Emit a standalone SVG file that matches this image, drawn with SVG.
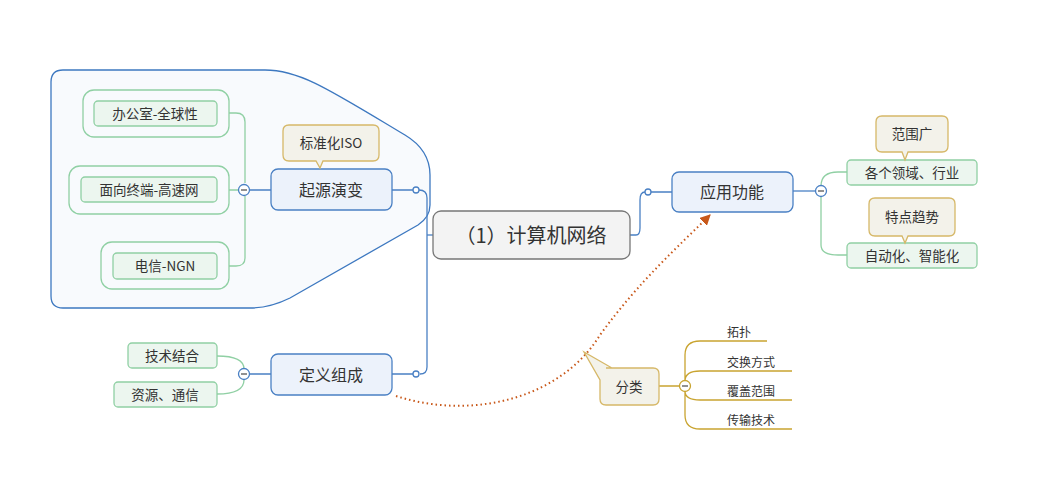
<svg xmlns="http://www.w3.org/2000/svg" width="1060" height="481" viewBox="0 0 1060 481">
<defs>
<style>
text{font-family:"Noto Sans CJK SC","Noto Sans",sans-serif;fill:#333;text-anchor:middle;dominant-baseline:central}
.main rect{fill:#ecf2fb;stroke:#4a80c4;stroke-width:1.3}
.main text{font-size:16px}
.sub rect.in{fill:#ecf6ef;stroke:#90d0a4;stroke-width:1.3}
.sub rect.out{fill:none;stroke:#90d0a4;stroke-width:1.3}
.sub text{font-size:13.5px}
.call path{fill:#f3f2ea;stroke:#d6b868;stroke-width:1.3}
.call text{font-size:13.5px}
.leaf text{font-size:12px;text-anchor:start}
.bl{fill:none;stroke:#4a80c4;stroke-width:1.3}
.gl{fill:none;stroke:#90d0a4;stroke-width:1.3}
.yl{fill:none;stroke:#c9a430;stroke-width:1.3}
.col{fill:#fff;stroke-width:1.3}
</style>
<marker id="ah" viewBox="0 0 10 10" refX="9" refY="5" markerWidth="5.5" markerHeight="5.5" orient="auto"><path d="M0,0 L10,5 L0,10 z" fill="#c8581a"/></marker>
</defs>
<path id="boundary" d="M63,70 L265,70 C300,70 330,90 405,135 Q430,150 430,175 L430,205 Q430,217 418,225 L290,298 Q270,308 250,308 L63,308 Q51,308 51,296 L51,82 Q51,70 63,70 Z" fill="#f8fafd" stroke="#3d78c0" stroke-width="1.3"/>
<g id="connectors">
<path class="bl" d="M433,235 L427,235"/>
<path class="bl" d="M392,190 L413,190 M419,190 Q427,190 427,198 L427,367 Q427,374 420,374 M413,374 L392,374"/>
<path class="bl" d="M630,235 L636,235 Q640,235 640,228 L640,200 Q640,192 645,192 M651,192 L672,192"/>
<path class="bl" d="M793,191 L815,191"/>
<path class="bl" d="M271,190 L250,190 M271,374 L250,374"/>
<path class="gl" d="M229,113 L236,113 Q245,113 245,122 L245,183 M229,190 L239,190 M245,196 L245,258 Q245,266 236,266 L229,266"/>
<path class="gl" d="M217,356 Q244,356 244,369 M244,380 Q244,394 217,394"/>
<path class="gl" d="M847,172 L838,172 Q821,172 821,186 M821,196 L821,245 Q821,255 838,255 L847,255"/>
<path class="yl" d="M659,386 L679,386 M685,381 L685,355 Q685,341 700,341 L767,341 M685,381 Q685,371 700,371 L792,371 M685,391 Q685,400 700,400 L792,400 M685,391 L685,415 Q685,429 700,429 L792,429"/>
<path d="M396,396 C470,420 560,400 600,335 C640,280 680,245 710,215" fill="none" stroke="#c8581a" stroke-width="2" stroke-dasharray="1.5,3" marker-end="url(#ah)"/>
<circle class="col" cx="416" cy="190" r="3" stroke="#4a80c4"/>
<circle class="col" cx="416" cy="374" r="3" stroke="#4a80c4"/>
<circle class="col" cx="648" cy="192" r="3" stroke="#4a80c4"/>
<circle class="col" cx="244" cy="190" r="5.5" stroke="#4a80c4"/>
<path d="M241,190 L247,190" stroke="#555" stroke-width="1.3"/>
<circle class="col" cx="244" cy="374" r="5.5" stroke="#4a80c4"/>
<path d="M241,374 L247,374" stroke="#555" stroke-width="1.3"/>
<circle class="col" cx="821" cy="191" r="5.5" stroke="#4a80c4"/>
<path d="M818,191 L824,191" stroke="#555" stroke-width="1.3"/>
<circle class="col" cx="685" cy="386" r="5.5" stroke="#c9a430"/>
<path d="M682,386 L688,386" stroke="#555" stroke-width="1.3"/>
</g>
<g id="center"><rect x="433" y="211" width="197" height="48" rx="8" fill="#f3f3f3" stroke="#777" stroke-width="1.3"/><text x="531" y="234" font-size="20">（1）计算机网络</text></g>
<g id="n-origin" class="main"><rect x="271" y="169" width="121" height="41" rx="7"/><text x="331" y="188.5">起源演变</text></g>
<g id="n-def" class="main"><rect x="271" y="354" width="121" height="41" rx="7"/><text x="331" y="373.5">定义组成</text></g>
<g id="n-app" class="main"><rect x="672" y="172" width="121" height="40" rx="7"/><text x="732" y="191">应用功能</text></g>
<g id="n-office" class="sub"><rect class="out" x="83" y="90" width="146" height="47" rx="11"/><rect class="in" x="94" y="101" width="123" height="25" rx="4"/><text x="155" y="112.5">办公室-全球性</text></g>
<g id="n-terminal" class="sub"><rect class="out" x="69" y="166" width="160" height="48" rx="11"/><rect class="in" x="81" y="177" width="136" height="25" rx="4"/><text x="149" y="188.5">面向终端-高速网</text></g>
<g id="n-ngn" class="sub"><rect class="out" x="101" y="242" width="128" height="47" rx="11"/><rect class="in" x="113" y="253" width="104" height="26" rx="4"/><text x="165" y="265">电信-NGN</text></g>
<g id="n-tech" class="sub"><rect class="in" x="128" y="343" width="89" height="25" rx="4"/><text x="172" y="354.5">技术结合</text></g>
<g id="n-res" class="sub"><rect class="in" x="114" y="382" width="103" height="25" rx="4"/><text x="165" y="393.5">资源、通信</text></g>
<g id="n-field" class="sub"><rect class="in" x="847" y="160" width="130" height="25" rx="4"/><text x="912" y="171.5">各个领域、行业</text></g>
<g id="n-auto" class="sub"><rect class="in" x="847" y="243" width="130" height="25" rx="4"/><text x="912" y="254.5">自动化、智能化</text></g>
<g id="c-iso" class="call"><path d="M289,125 L373,125 Q379,125 379,131 L379,155 Q379,161 373,161 L323,161 L320,168 L316,161 L289,161 Q283,161 283,155 L283,131 Q283,125 289,125 Z"/><text x="331" y="142">标准化ISO</text></g>
<g id="c-range" class="call"><path d="M882,116 L942,116 Q948,116 948,122 L948,146 Q948,152 942,152 L908,152 L905,160 L902,152 L882,152 Q876,152 876,146 L876,122 Q876,116 882,116 Z"/><text x="912" y="133">范围广</text></g>
<g id="c-trend" class="call"><path d="M875,198 L949,198 Q955,198 955,204 L955,230 Q955,236 949,236 L908,236 L905,243 L902,236 L875,236 Q869,236 869,230 L869,204 Q869,198 875,198 Z"/><text x="912" y="216">特点趋势</text></g>
<g id="c-class" class="call"><path d="M606,368 L653,368 Q659,368 659,374 L659,399 Q659,405 653,405 L606,405 Q600,405 600,399 L600,380 L584,352 L612,368 Z"/><text x="629" y="385.5">分类</text></g>
<g id="l-topo" class="leaf"><text x="727" y="331">拓扑</text></g>
<g id="l-switch" class="leaf"><text x="727" y="361">交换方式</text></g>
<g id="l-cover" class="leaf"><text x="727" y="390">覆盖范围</text></g>
<g id="l-trans" class="leaf"><text x="727" y="419">传输技术</text></g>
</svg>
